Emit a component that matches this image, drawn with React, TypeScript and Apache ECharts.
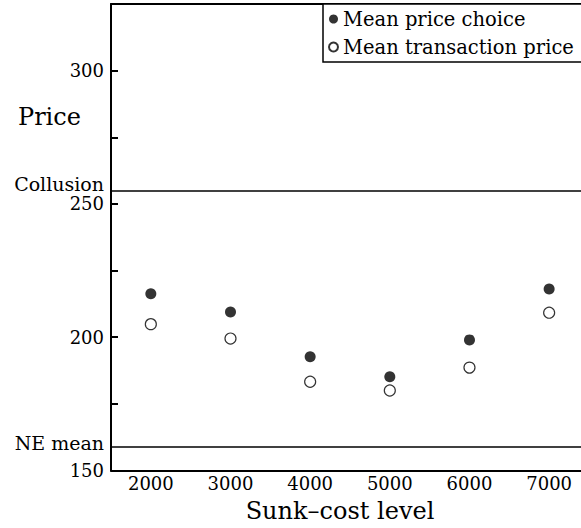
import React, { useEffect, useRef } from "react";
import * as echarts from "echarts";

const sunkCostLevels = [2000, 3000, 4000, 5000, 6000, 7000];
const meanPriceChoice = [216.3, 209.5, 192.7, 185.2, 199.0, 218.1];
const meanTransactionPrice = [204.9, 199.5, 183.3, 180.0, 188.6, 209.2];
const collusionPrice = 255;
const neMeanPrice = 159;
const yTickLabels = [150, 200, 250, 300];
const xTickLabels = [2000, 3000, 4000, 5000, 6000, 7000];

const FONT = "'DejaVu Serif', serif";

export default function App() {
  const ref = useRef<HTMLDivElement>(null);
  useEffect(() => {
    if (!ref.current) return;
    const chart = echarts.init(ref.current, undefined, { renderer: "svg" });
    const choicePts = sunkCostLevels.map((x, i) => [x, meanPriceChoice[i]]);
    const transPts = sunkCostLevels.map((x, i) => [x, meanTransactionPrice[i]]);
    chart.setOption({
      animation: false,
      backgroundColor: "#fff",
      textStyle: { fontFamily: FONT, color: "#000" },
      grid: { left: 111, top: 4, width: 470, height: 466.5, containLabel: false },
      xAxis: [
        {
          type: "value",
          min: 1500,
          max: 7400,
          interval: 500,
          axisLine: { show: true, onZero: false, lineStyle: { color: "#000", width: 2 } },
          axisTick: { show: false },
          splitLine: { show: false },
          axisLabel: {
            margin: 4,
            fontSize: 18,
            fontFamily: FONT,
            color: "#000",
            showMaxLabel: false,
            formatter: (v: number) => (xTickLabels.includes(v) ? String(v) : ""),
          },
        },
        {
          type: "value",
          position: "top",
          min: 1500,
          max: 7400,
          axisLine: { show: true, onZero: false, lineStyle: { color: "#000", width: 2 } },
          axisTick: { show: false },
          axisLabel: { show: false },
          splitLine: { show: false },
        },
      ],
      yAxis: {
        type: "value",
        min: 150,
        max: 325,
        interval: 25,
        axisLine: { show: true, onZero: false, lineStyle: { color: "#000", width: 2 } },
        axisTick: { show: true, inside: true, length: 7, lineStyle: { color: "#000", width: 2 } },
        splitLine: { show: false },
        axisLabel: {
          margin: 7,
          fontSize: 18,
          fontFamily: FONT,
          color: "#000",
          formatter: (v: number) => (yTickLabels.includes(v) ? String(v) : ""),
        },
      },
      legend: {
        orient: "vertical",
        left: 323,
        top: 4,
        padding: [5, 40, 5, 5],
        itemGap: 8,
        itemWidth: 9,
        itemHeight: 9,
        borderColor: "#000",
        borderWidth: 1.5,
        backgroundColor: "#fff",
        textStyle: { fontFamily: FONT, fontSize: 19.5, color: "#000" },
        data: [
          { name: "Mean price choice", icon: "circle" },
          { name: "Mean transaction price", icon: "circle" },
        ],
      },
      series: [
        {
          name: "Mean price choice",
          type: "scatter",
          symbol: "circle",
          symbolSize: 11,
          itemStyle: { color: "#000" },
          data: choicePts,
          markLine: {
            silent: true,
            symbol: "none",
            lineStyle: { color: "#000", width: 1.5, type: "solid" },
            label: { show: false },
            emphasis: { disabled: true },
            data: [
              { name: "Collusion", yAxis: collusionPrice },
              { name: "NE mean", yAxis: neMeanPrice },
            ],
          },
        },
        {
          name: "Mean transaction price",
          type: "scatter",
          symbol: "circle",
          symbolSize: 11,
          itemStyle: { color: "#fff", borderColor: "#000", borderWidth: 1.2 },
          data: transPts,
        },
      ],
    });
    const yCollusion = chart.convertToPixel({ yAxisIndex: 0 }, collusionPrice) as number;
    const yNE = chart.convertToPixel({ yAxisIndex: 0 }, neMeanPrice) as number;
    chart.setOption({
      graphic: [
        {
          type: "text",
          x: 18,
          y: 117,
          style: {
            text: "Price",
            fontFamily: FONT,
            fontSize: 24,
            fill: "#000",
            align: "left",
            verticalAlign: "middle",
          },
        },
        {
          type: "text",
          x: 340,
          y: 511,
          style: {
            text: "Sunk–cost level",
            fontFamily: FONT,
            fontSize: 24,
            fill: "#000",
            align: "center",
            verticalAlign: "middle",
          },
        },
        {
          type: "text",
          x: 104,
          y: yCollusion - 7,
          style: {
            text: "Collusion",
            fontFamily: FONT,
            fontSize: 19,
            fill: "#000",
            align: "right",
            verticalAlign: "middle",
          },
        },
        {
          type: "text",
          x: 104,
          y: yNE - 4,
          style: {
            text: "NE mean",
            fontFamily: FONT,
            fontSize: 19,
            fill: "#000",
            align: "right",
            verticalAlign: "middle",
          },
        },
      ],
    });
    return () => chart.dispose();
  }, []);
  return (
    <div
      ref={ref}
      style={{ position: "absolute", left: 0, top: 0, width: 581, height: 528 }}
    />
  );
}
